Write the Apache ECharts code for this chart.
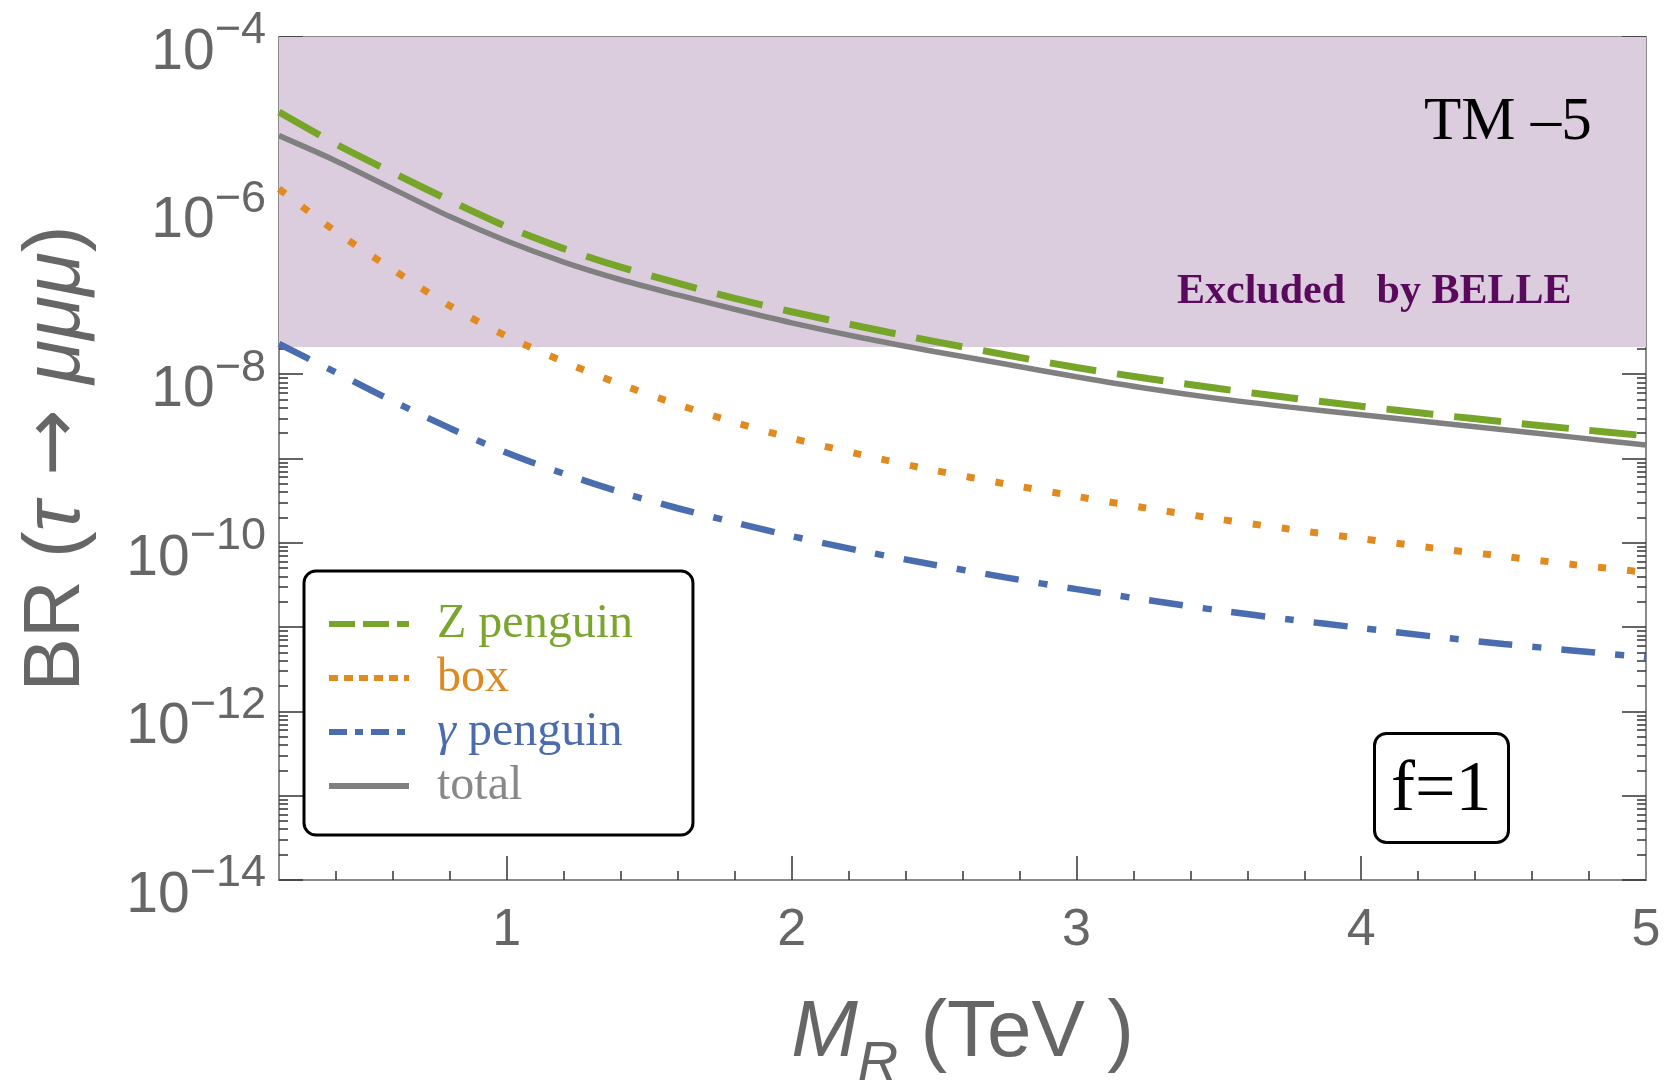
<!DOCTYPE html>
<html>
<head>
<meta charset="utf-8">
<title>BR(tau -> mu mu mu) vs M_R</title>
<script src="https://cdn.jsdelivr.net/npm/echarts@6.0.0/dist/echarts.min.js"></script>
<style>
  html, body { margin: 0; padding: 0; background: #fff; }
  #chart { width: 1667px; height: 1088px; }
</style>
</head>
<body>
<div id="chart"></div>
<script>
// M_R in TeV
var massTeV = [0.2, 0.4, 0.6, 0.8, 1.0, 1.2, 1.4, 1.6, 1.8, 2.0, 2.25, 2.5, 2.75, 3.0, 3.25, 3.5, 3.75, 4.0, 4.25, 4.5, 4.75, 5.0];

// branching ratios
var zPenguin = [1.29e-5, 5.37e-6, 2.45e-6, 1.15e-6, 5.62e-7, 3.09e-7, 1.86e-7, 1.20e-7, 7.94e-8, 5.50e-8, 3.63e-8,
                2.45e-8, 1.70e-8, 1.20e-8, 8.91e-9, 6.76e-9, 5.25e-9, 4.17e-9, 3.35e-9, 2.72e-9, 2.24e-9, 1.86e-9];
var boxDiagram = [1.58e-6, 4.90e-7, 1.74e-7, 6.46e-8, 2.82e-8, 1.41e-8, 7.59e-9, 4.37e-9, 2.69e-9, 1.74e-9, 1.10e-9,
                  7.24e-10, 5.01e-10, 3.55e-10, 2.57e-10, 1.91e-10, 1.45e-10, 1.12e-10, 8.71e-11, 6.92e-11, 5.50e-11, 4.47e-11];
var gammaPenguin = [2.29e-8, 1.05e-8, 4.79e-9, 2.29e-9, 1.17e-9, 6.61e-10, 3.98e-10, 2.57e-10, 1.74e-10, 1.20e-10, 7.94e-11,
                    5.50e-11, 3.89e-11, 2.82e-11, 2.09e-11, 1.58e-11, 1.23e-11, 9.77e-12, 7.76e-12, 6.31e-12, 5.25e-12, 4.37e-12];
var totalBR = [6.76e-6, 3.39e-6, 1.58e-6, 7.41e-7, 3.80e-7, 2.14e-7, 1.32e-7, 8.71e-8, 5.89e-8, 4.07e-8, 2.69e-8,
               1.86e-8, 1.32e-8, 9.33e-9, 6.76e-9, 5.13e-9, 4.07e-9, 3.31e-9, 2.69e-9, 2.19e-9, 1.78e-9, 1.45e-9];

var belleLimit = 2.1e-8;

// ticks and labels
var xLabelValues = [1, 2, 3, 4, 5];
var xMajorTicks = [1, 2, 3, 4];
var xMinorTicks = [0.4, 0.6, 0.8, 1.2, 1.4, 1.6, 1.8, 2.2, 2.4, 2.6, 2.8, 3.2, 3.4, 3.6, 3.8, 4.2, 4.4, 4.6, 4.8];
var yLabelValues = [1e-14, 1e-12, 1e-10, 1e-8, 1e-6, 1e-4];
var yDecades = [1e-14, 1e-13, 1e-12, 1e-11, 1e-10, 1e-9, 1e-8, 1e-7, 1e-6, 1e-5, 1e-4];
var yMinorTicks = [];
yDecades.slice(0, -1).forEach(function (d) {
  for (var k = 2; k <= 9; k++) yMinorTicks.push(k * d);
});

var GREEN = '#77a52a', ORANGE = '#e08a1f', BLUE = '#4a6daf', GRAY = '#808080';
var SANS = 'Liberation Sans', SERIF = 'Liberation Serif';

function pairs(ys) {
  return massTeV.map(function (x, i) { return [x, ys[i]]; });
}

function curve(name, ys, color, width, dash) {
  return {
    name: name,
    type: 'line',
    data: pairs(ys),
    symbol: 'none',
    showSymbol: false,
    smooth: 0.3,
    z: 3,
    lineStyle: { color: color, width: width, type: dash, cap: 'butt' },
    itemStyle: { color: color }
  };
}

// empty series only used for the legend samples (shorter dashes)
function legendOnly(name, color, dash) {
  return {
    name: name,
    type: 'line',
    data: [],
    symbol: 'none',
    lineStyle: { color: color, width: 6, type: dash, cap: 'butt' },
    itemStyle: { color: color }
  };
}

function xAxisDef(pos, ticks, len, withLabels) {
  return {
    type: 'value',
    position: pos,
    min: 0.2,
    max: 5,
    axisLine: { show: true, onZero: false, lineStyle: { color: '#8a8a8a', width: 2 } },
    axisTick: { show: true, inside: true, length: len, customValues: ticks, lineStyle: { color: '#333', width: 1.5 } },
    axisLabel: withLabels ? {
      show: true, customValues: xLabelValues, margin: 25, showMaxLabel: true, showMinLabel: true,
      color: '#666', fontFamily: SANS, fontSize: 52
    } : { show: false },
    splitLine: { show: false }
  };
}

function yAxisDef(pos, ticks, len, withLabels) {
  var ax = {
    type: 'log',
    logBase: 10,
    position: pos,
    min: 1e-14,
    max: 1e-4,
    axisLine: { show: true, lineStyle: { color: '#8a8a8a', width: 2 } },
    axisTick: { show: true, inside: true, length: len, customValues: ticks, lineStyle: { color: '#333', width: 1.5 } },
    axisLabel: { show: false },
    splitLine: { show: false }
  };
  if (withLabels) {
    ax.axisLabel = {
      show: true, customValues: yLabelValues, margin: 13, showMaxLabel: true, showMinLabel: true,
      color: '#666', fontFamily: SANS,
      formatter: function (v) {
        var e = Math.round(Math.log10(v));
        return '{b|10}{s|\u2212' + (-e) + '}';
      },
      rich: {
        b: { fontSize: 57, lineHeight: 57, padding: [16, 0, 0, 0], verticalAlign: 'top', color: '#666', fontFamily: SANS },
        s: { fontSize: 45, lineHeight: 45, verticalAlign: 'top', color: '#666', fontFamily: SANS }
      }
    };
    ax.name = '{n|BR (}{i|\u03c4}{a| \u2192 }{i|\u03bc\u03bc\u03bc}{n|)}';
    ax.nameLocation = 'middle';
    ax.nameRotate = 90;
    ax.nameGap = 182;
    ax.nameTextStyle = {
      rich: {
        n: { fontSize: 80, lineHeight: 80, color: '#666', fontFamily: SANS },
        a: { fontSize: 80, lineHeight: 80, color: '#666', fontFamily: 'DejaVu Sans' },
        i: { fontSize: 80, lineHeight: 80, color: '#666', fontFamily: SANS, fontStyle: 'italic' }
      }
    };
  }
  return ax;
}

var xMain = xAxisDef('bottom', xMajorTicks, 24, true);
xMain.name = '{m|M}{r|R}{n| (TeV )}';
xMain.nameLocation = 'middle';
xMain.nameGap = 114;
xMain.nameTextStyle = {
  rich: {
    m: { fontSize: 80, lineHeight: 80, verticalAlign: 'top', color: '#666', fontFamily: SANS, fontStyle: 'italic' },
    r: { fontSize: 56, lineHeight: 56, verticalAlign: 'top', padding: [42, 0, 0, 0], color: '#666', fontFamily: SANS, fontStyle: 'italic' },
    n: { fontSize: 80, lineHeight: 80, verticalAlign: 'top', color: '#666', fontFamily: SANS }
  }
};

var chart = echarts.init(document.getElementById('chart'));

var option = {
  backgroundColor: '#fff',
  animation: false,
  grid: { left: 279, right: 21, top: 37, bottom: 208, containLabel: false, outerBoundsMode: 'none' },
  title: [
    {
      text: 'TM \u20135', left: 1424, top: 92, padding: 0,
      textStyle: { fontFamily: SERIF, fontSize: 61, lineHeight: 61, fontWeight: 'normal', color: '#000' }
    },
    {
      text: 'Excluded   by BELLE', left: 1177, top: 271, padding: 0,
      textStyle: { fontFamily: SERIF, fontSize: 42, lineHeight: 42, fontWeight: 'bold', color: '#5a0a5c' }
    },
    {
      text: 'f=1', left: 1374, top: 733, padding: [22, 17, 16, 17],
      borderColor: '#000', borderWidth: 3, borderRadius: 12, backgroundColor: '#fff',
      textStyle: { fontFamily: SERIF, fontSize: 72, lineHeight: 72, fontWeight: 'normal', color: '#000' }
    }
  ],
  legend: {
    orient: 'vertical',
    left: 304,
    top: 571,
    padding: [28, 60, 24, 22],
    itemWidth: 80,
    itemHeight: 14,
    itemGap: 4,
    borderColor: '#000',
    borderWidth: 3,
    borderRadius: 12,
    backgroundColor: '#fff',
    selectedMode: false,
    lineStyle: { width: 6 },
    itemStyle: { opacity: 0 },
    textStyle: { fontFamily: SERIF, fontSize: 48, lineHeight: 50, padding: [0, 0, 0, 23] },
    formatter: function (name) {
      return name === '\u03b3 penguin' ? '{g|\u03b3} penguin' : name;
    },
    data: [
      { name: 'Z penguin', textStyle: { color: '#7aa62e' } },
      { name: 'box', textStyle: { color: '#de8a22' } },
      { name: '\u03b3 penguin', textStyle: { color: '#4a6caf', rich: { g: { fontStyle: 'italic', fontFamily: SERIF, fontSize: 48, lineHeight: 50, color: '#4a6caf' } } } },
      { name: 'total', textStyle: { color: '#888' } }
    ]
  },
  xAxis: [
    xMain,
    xAxisDef('bottom', xMinorTicks, 9, false),
    xAxisDef('top', xMajorTicks, 24, false),
    xAxisDef('top', xMinorTicks, 9, false)
  ],
  yAxis: [
    yAxisDef('left', yDecades, 24, true),
    yAxisDef('left', yMinorTicks, 9, false),
    yAxisDef('right', yDecades, 24, false),
    yAxisDef('right', yMinorTicks, 9, false)
  ],
  series: [
    {
      name: 'belle',
      type: 'line',
      data: [],
      z: 1,
      markArea: {
        silent: true,
        itemStyle: { color: '#dccdde' },
        data: [[{ yAxis: belleLimit }, { yAxis: 1e-4 }]]
      },
      markLine: {
        silent: true,
        symbol: 'none',
        label: { show: false },
        lineStyle: { color: '#c6a0cb', width: 2, type: 'solid' },
        data: [{ yAxis: belleLimit }]
      }
    },
    curve('box line', boxDiagram, ORANGE, 7, [8, 21]),
    curve('gamma line', gammaPenguin, BLUE, 6.5, [34, 20, 9, 20]),
    curve('total line', totalBR, GRAY, 5.5, 'solid'),
    curve('Z line', zPenguin, GREEN, 7, [47, 21]),
    legendOnly('Z penguin', GREEN, [26, 8]),
    legendOnly('box', ORANGE, [9, 6]),
    legendOnly('\u03b3 penguin', BLUE, [18, 8, 8, 8]),
    legendOnly('total', GRAY, 'solid')
  ]
};

chart.setOption(option);
</script>
</body>
</html>
